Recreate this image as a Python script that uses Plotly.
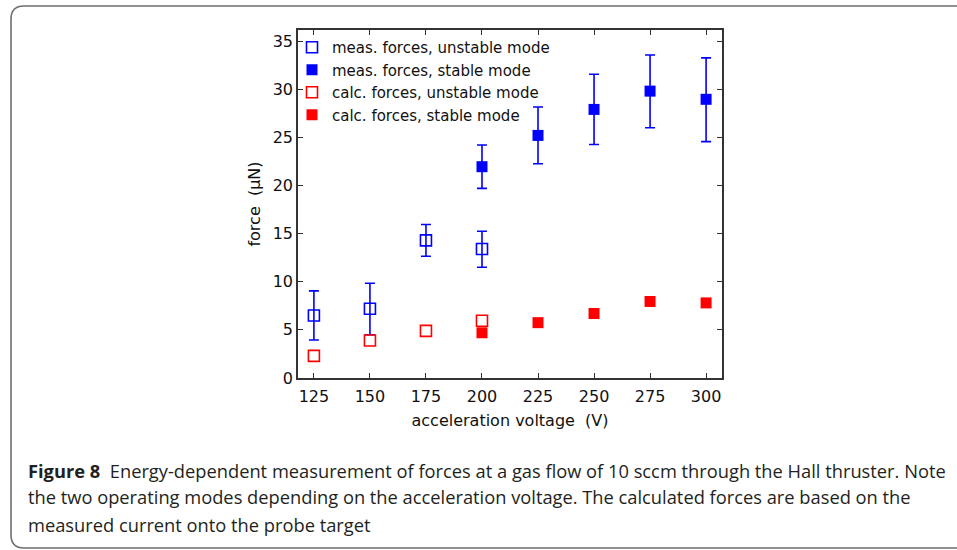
import plotly.graph_objects as go

# ---- data ----
volt_meas_unstable = [125, 150, 175, 200]
force_meas_unstable = [6.5, 7.2, 14.3, 13.4]
err_meas_unstable_plus = [2.55, 2.65, 1.65, 1.85]
err_meas_unstable_minus = [2.55, 2.7, 1.65, 1.9]

volt_meas_stable = [200, 225, 250, 275, 300]
force_meas_stable = [21.95, 25.2, 27.9, 29.8, 28.95]
err_meas_stable_plus = [2.25, 2.95, 3.65, 3.75, 4.3]
err_meas_stable_minus = [2.25, 2.95, 3.65, 3.8, 4.4]

volt_calc_unstable = [125, 150, 175, 200]
force_calc_unstable = [2.3, 3.9, 4.9, 5.95]

volt_calc_stable = [200, 225, 250, 275, 300]
force_calc_stable = [4.7, 5.75, 6.7, 7.95, 7.8]

x_ticks = [125, 150, 175, 200, 225, 250, 275, 300]
y_ticks = [0, 5, 10, 15, 20, 25, 30, 35]

legend_names = ["meas. forces, unstable mode", "meas. forces, stable mode",
                "calc. forces, unstable mode", "calc. forces, stable mode"]

caption_lines = [
    "<b>Figure 8</b>  Energy-dependent measurement of forces at a gas flow of 10 sccm through the Hall thruster. Note",
    "the two operating modes depending on the acceleration voltage. The calculated forces are based on the",
    "measured current onto the probe target",
]

# ---- layout geometry (pixels) ----
W, H = 957, 550
L, R, T, B = 298, 722, 30, 378
PW, PH = R - L, B - T

def px(x):
    return (x - L) / PW

def py(y):
    return (B - y) / PH

BLUE = "#0000ff"
RED = "#ff0000"
MS = 11

fig = go.Figure()
fig.add_trace(go.Scatter(
    x=volt_meas_unstable, y=force_meas_unstable, mode="markers", name=legend_names[0],
    marker=dict(symbol="square-open", size=MS, color=BLUE, line=dict(width=1.6, color=BLUE)),
    error_y=dict(type="data", array=err_meas_unstable_plus, arrayminus=err_meas_unstable_minus,
                 color=BLUE, thickness=1.6, width=5),
))
fig.add_trace(go.Scatter(
    x=volt_meas_stable, y=force_meas_stable, mode="markers", name=legend_names[1],
    marker=dict(symbol="square", size=MS, color=BLUE),
    error_y=dict(type="data", array=err_meas_stable_plus, arrayminus=err_meas_stable_minus,
                 color=BLUE, thickness=1.6, width=5),
))
fig.add_trace(go.Scatter(
    x=volt_calc_unstable, y=force_calc_unstable, mode="markers", name=legend_names[2],
    marker=dict(symbol="square-open", size=MS, color=RED, line=dict(width=1.6, color=RED)),
))
fig.add_trace(go.Scatter(
    x=volt_calc_stable, y=force_calc_stable, mode="markers", name=legend_names[3],
    marker=dict(symbol="square", size=MS, color=RED),
))

axis_common = dict(
    showgrid=False, zeroline=False, showline=True, linecolor="#333333", linewidth=1.5,
    mirror="ticks", ticks="inside", ticklen=5, tickwidth=1.2, tickcolor="#333333",
    tickfont=dict(family="DejaVu Sans", size=16, color="#111111"),
)

fig.update_layout(
    width=W, height=H,
    margin=dict(l=L, r=W - R, t=T, b=H - B, pad=0),
    paper_bgcolor="white", plot_bgcolor="white",
    showlegend=True,
    legend=dict(x=px(292), y=py(31), xanchor="left", yanchor="top", bgcolor="rgba(0,0,0,0)",
                font=dict(family="DejaVu Sans", size=15, color="#111111"),
                tracegroupgap=0, itemwidth=30),
    xaxis=dict(axis_common, range=[117.9, 307.1], tickvals=x_ticks, ticklabelstandoff=3,
               title=dict(text="acceleration voltage  (V)", standoff=10,
                          font=dict(family="DejaVu Sans", size=16, color="#111111"))),
    yaxis=dict(axis_common, range=[0, 36.15], tickvals=y_ticks,
               title=dict(text="force  (µN)", standoff=8,
                          font=dict(family="DejaVu Sans", size=16, color="#111111"))),
)

# rounded frame around figure + caption
x0, y0, x1, y1, r = 11, 6, 975, 548, 13
path = (f"M {px(x0)},{py(y0 + r)} Q {px(x0)},{py(y0)} {px(x0 + r)},{py(y0)} "
        f"L {px(x1)},{py(y0)} L {px(x1)},{py(y1)} L {px(x0 + r)},{py(y1)} "
        f"Q {px(x0)},{py(y1)} {px(x0)},{py(y1 - r)} Z")
fig.add_shape(type="path", path=path, xref="paper", yref="paper",
              line=dict(color="#6e6e6e", width=1.6), layer="above")

for i, (line, yy) in enumerate(zip(caption_lines, [470, 497, 524])):
    fig.add_annotation(text=line, xref="paper", yref="paper", x=px(26), y=py(yy),
                       xanchor="left", yanchor="middle", showarrow=False,
                       font=dict(family="Open Sans", size=18.3, color="#231f20"))

fig.write_html("out.html", config={"displayModeBar": False},
               post_script="document.body.style.margin='0';document.body.style.overflow='hidden';")
